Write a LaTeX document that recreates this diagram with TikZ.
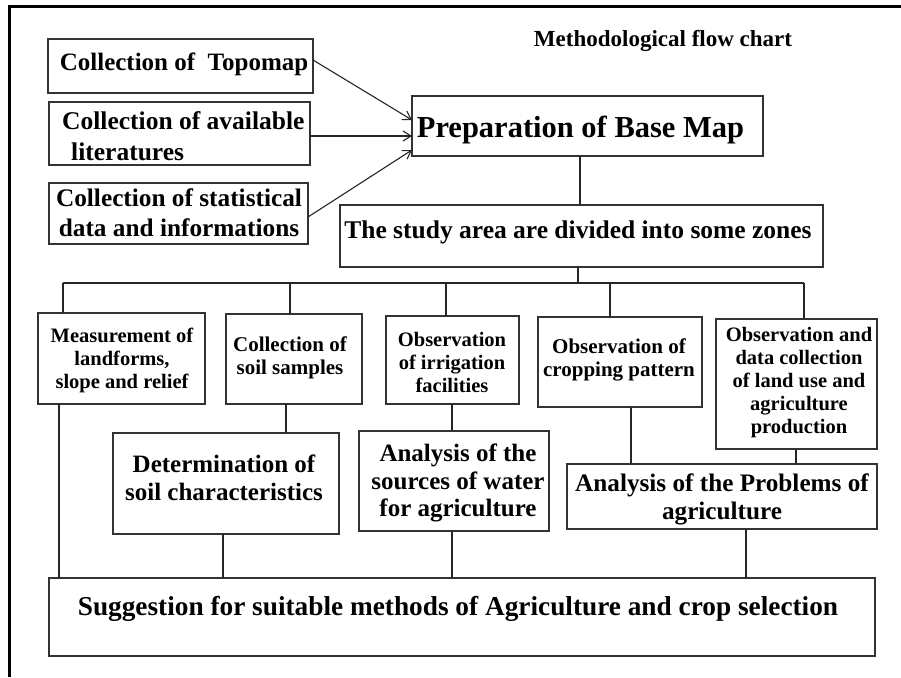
\documentclass[tikz,border=0pt]{standalone}
\usepackage{fontspec}
\setmainfont{Liberation Serif}
\usetikzlibrary{arrows.meta,calc}
\newcommand{\fsz}[2]{\bfseries\fontsize{#1}{#2}\selectfont}
\begin{document}
\begin{tikzpicture}[x=1pt,y=-1pt,
  box/.style={draw=black!80, line width=1.1pt, inner sep=0pt, outer sep=0pt},
  txt/.style={inner sep=0pt, align=center},
  conn/.style={draw=black!85, line width=1.1pt},
  arr/.style={conn, -{Straight Barb[length=8pt,width=10pt]}}]
\useasboundingbox (0,0) rectangle (901,677);
\fill[white] (0,0) rectangle (901,677);
% frame
\draw[line width=3.6pt] (9.5,677) -- (9.5,6.5) -- (901,6.5);

% title
\node[txt, font=\fsz{23}{28}] (title) at (663,41) {Methodological flow chart};

% boxes
\node[box, minimum width=265pt, minimum height=54pt] (topo) at (180.5,66) {};
\node[box, minimum width=261pt, minimum height=63pt] (lit) at (179.5,133.5) {};
\node[box, minimum width=259pt, minimum height=61pt] (stat) at (178.5,213.5) {};
\node[box, minimum width=351pt, minimum height=60pt] (base) at (587.5,126) {};
\node[box, minimum width=483pt, minimum height=62pt] (study) at (581.5,236) {};
\node[box, minimum width=167pt, minimum height=91pt] (meas) at (121.5,358.5) {};
\node[box, minimum width=136pt, minimum height=90pt] (soil) at (294,359) {};
\node[box, minimum width=133pt, minimum height=88pt] (irr) at (452.5,360) {};
\node[box, minimum width=164pt, minimum height=90pt] (crop) at (620,362) {};
\node[box, minimum width=161pt, minimum height=130pt] (land) at (796.5,384) {};
\node[box, minimum width=226pt, minimum height=101pt] (det) at (226,483.5) {};
\node[box, minimum width=190pt, minimum height=100pt] (water) at (454,481) {};
\node[box, minimum width=310pt, minimum height=65pt] (prob) at (722,496.5) {};
\node[box, minimum width=826pt, minimum height=78pt] (sugg) at (462,617) {};

% texts
\node[txt, font=\fsz{25}{30}] at (184,64) {Collection of~~Topomap};
\node[txt, align=left, anchor=west, font=\fsz{25.5}{31}] at (62,136) {Collection of available\\\hspace*{9pt}literatures};
\node[txt, font=\fsz{25.3}{30}] at (179,213) {Collection of statistical\\data and informations};
\node[txt, font=\fsz{30.5}{36}] at (580.5,130) {Preparation of Base Map};
\node[txt, font=\fsz{25.5}{30}] at (578,232) {The study area are divided into some zones};
\node[txt, font=\fsz{20.5}{23}] at (122,360) {Measurement of\\landforms,\\slope and relief};
\node[txt, font=\fsz{21}{23.5}] at (290,358) {Collection of\\soil samples};
\node[txt, font=\fsz{20.5}{23}] at (452,362) {Observation\\of irrigation\\facilities};
\node[txt, font=\fsz{21}{23}] at (619,360) {Observation of\\cropping pattern};
\node[txt, font=\fsz{20.5}{23}] at (799,383) {Observation and\\data collection\\of land use and\\agriculture\\production};
\node[txt, font=\fsz{25}{28}] at (224,478) {Determination of\\soil characteristics};
\node[txt, font=\fsz{25}{27.5}] at (458,483) {Analysis of the\\sources of water\\for agriculture};
\node[txt, font=\fsz{25.2}{28}] at (722,499) {Analysis of the Problems of\\agriculture};
\node[txt, font=\fsz{27.3}{32}] at (458,609) {Suggestion for suitable methods of Agriculture and crop selection};

% arrows into base map
\draw[arr] ([yshift=6pt]topo.east) -- ([yshift=6pt]base.west);
\draw[arr] ([yshift=-2.5pt]lit.east) -- ([yshift=-10pt]base.west);
\draw[arr] ([yshift=-3.5pt]stat.east) -- ([yshift=-24pt]base.west);

% base -> study
\draw[conn] ([xshift=-7.5pt]base.south) -- ([xshift=-7.5pt]base.south |- study.north);

% bus
\coordinate (bj) at (578,283);
\coordinate (busL) at (63,283);
\coordinate (b2) at (290,283);
\coordinate (b3) at (446,283);
\coordinate (b4) at (610,283);
\coordinate (busR) at (804,283);
\draw[conn] (study.south -| bj) -- (bj);
\draw[conn] (busL) -- (busR);
\draw[conn] (busL) -- (busL |- meas.north);
\draw[conn] (b2) -- (b2 |- soil.north);
\draw[conn] (b3) -- (b3 |- irr.north);
\draw[conn] (b4) -- (b4 |- crop.north);
\draw[conn] (busR) -- (busR |- land.north);

% lower connectors
\coordinate (c1) at (59,0);
\coordinate (c2) at (286,0);
\coordinate (c3) at (223,0);
\coordinate (c4) at (452,0);
\coordinate (c5) at (631,0);
\coordinate (c6) at (796,0);
\coordinate (c7) at (746,0);
\draw[conn] (meas.south -| c1) -- (sugg.north -| c1);
\draw[conn] (soil.south -| c2) -- (det.north -| c2);
\draw[conn] (det.south -| c3) -- (sugg.north -| c3);
\draw[conn] (irr.south -| c4) -- (water.north -| c4);
\draw[conn] (water.south -| c4) -- (sugg.north -| c4);
\draw[conn] (crop.south -| c5) -- (prob.north -| c5);
\draw[conn] (land.south -| c6) -- (prob.north -| c6);
\draw[conn] (prob.south -| c7) -- (sugg.north -| c7);
\end{tikzpicture}
\end{document}
